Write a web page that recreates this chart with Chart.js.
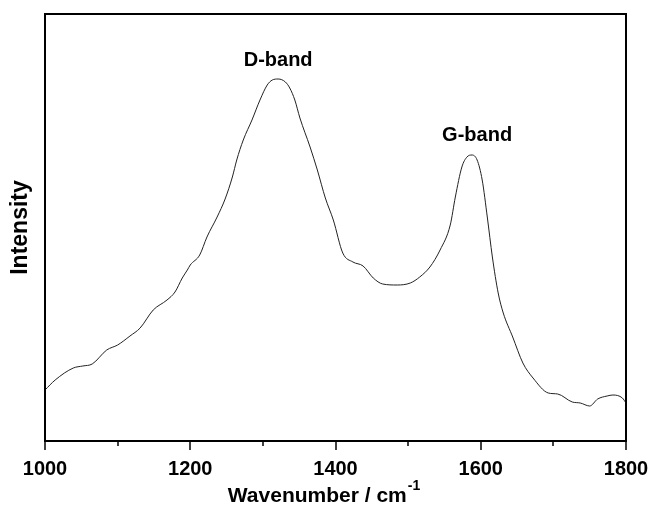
<!DOCTYPE html>
<html>
<head>
<meta charset="utf-8">
<script src="https://cdn.jsdelivr.net/npm/chart.js@4.4.1/dist/chart.umd.min.js"></script>
<style>
  html, body { margin: 0; padding: 0; background: #fff; }
  #wrap { width: 651px; height: 507px; }
</style>
</head>
<body>
<div id="wrap"><canvas id="c" width="651" height="507"></canvas></div>
<script>
// Raman spectrum (intensity in arbitrary units)
const wavenumbers = [1000,1014,1039,1052,1065,1085,1100,1117,1131,1149,1168,1179,1189,1196,1200,1213,1223,1237,1248,1258,1264,1273,1285,1296,1306,1313,1321,1331,1337,1344,1351,1365,1375,1386,1397,1410,1424,1438,1452,1465,1485,1503,1516,1530,1544,1558,1565,1574,1581,1588,1595,1602,1609,1616,1624,1631,1644,1658,1672,1693,1706,1726,1737,1750,1761,1774,1782,1795,1800];
const intensity = [51,61,73,75,77,91,96,105,113,131,141,149,163,171,176,186,204,224,242,264,281,301,321,341,356,361,362,359,353,341,323,294,271,243,221,188,179,175,163,157,156,158,164,174,191,216,244,274,284,286,281,261,224,184,148,128,104,78,63,48,47,39,38,35,42,45,46,43,38];
const xTicks = [1000,1100,1200,1300,1400,1500,1600,1700,1800];
const xLabelTicks = [1000,1200,1400,1600,1800];
const bandLabels = ["D-band","G-band"];
const bandLabelX = [1321,1595];
const bandLabelY = [381,306];
const xTitle = "Wavenumber / cm";
const xTitleSup = "-1";
const yTitle = "Intensity";

const FONT = "'Liberation Sans', Arial, sans-serif";

const framePlugin = {
  id: 'frame',
  afterDraw(chart) {
    const {ctx, chartArea: a, scales} = chart;
    const xs = scales.x, ys = scales.y;
    ctx.save();
    ctx.strokeStyle = '#000';
    ctx.lineWidth = 2;
    ctx.strokeRect(a.left, a.top, a.right - a.left, a.bottom - a.top);
    ctx.lineWidth = 1.5;
    xTicks.forEach((v) => {
      const px = Math.round(xs.getPixelForValue(v));
      const len = (v % 200 === 0) ? 9 : 5;
      ctx.beginPath();
      ctx.moveTo(px, a.bottom);
      ctx.lineTo(px, a.bottom + len);
      ctx.stroke();
    });
    ctx.fillStyle = '#000';
    ctx.font = "bold 20px " + FONT;
    ctx.textAlign = 'center';
    ctx.textBaseline = 'middle';
    bandLabels.forEach((t, i) => {
      ctx.fillText(t, xs.getPixelForValue(bandLabelX[i]), ys.getPixelForValue(bandLabelY[i]));
    });
    const mainFont = "bold 21px " + FONT;
    const supFont = "bold 14px " + FONT;
    ctx.font = mainFont;
    const w1 = ctx.measureText(xTitle).width;
    ctx.font = supFont;
    const w2 = ctx.measureText(xTitleSup).width;
    const cx = (a.left + a.right) / 2;
    const x0 = cx - (w1 + w2) / 2 - 12;
    ctx.textAlign = 'left';
    ctx.textBaseline = 'alphabetic';
    ctx.font = mainFont;
    ctx.fillText(xTitle, x0, 502);
    ctx.font = supFont;
    ctx.fillText(xTitleSup, x0 + w1 + 1, 490);
    ctx.restore();
  }
};

new Chart(document.getElementById('c'), {
  type: 'line',
  data: {
    datasets: [{
      data: wavenumbers.map((w, i) => ({x: w, y: intensity[i]})),
      borderColor: '#222',
      borderWidth: 1,
      pointRadius: 0,
      fill: false,
      cubicInterpolationMode: 'monotone'
    }]
  },
  options: {
    responsive: false,
    animation: false,
    layout: { padding: { left: 0, right: 25, top: 14, bottom: 0 } },
    plugins: { legend: { display: false }, tooltip: { enabled: false } },
    scales: {
      x: {
        type: 'linear',
        min: 1000, max: 1800,
        grid: { display: false, drawTicks: false },
        border: { display: false },
        afterBuildTicks(scale) { scale.ticks = xLabelTicks.map(v => ({value: v})); },
        ticks: {
          color: '#000',
          font: { family: FONT, size: 20, weight: 'bold' },
          padding: 16,
          maxRotation: 0,
          autoSkip: false,
          callback: (v) => String(v)
        },
        afterFit(scale) {
          scale.height = 66;
          scale.paddingLeft = 0; scale.paddingRight = 0;
        }
      },
      y: {
        min: 0, max: 427,
        grid: { display: false, drawTicks: false },
        border: { display: false },
        ticks: { display: false },
        title: {
          display: true,
          text: yTitle,
          color: '#000',
          font: { family: FONT, size: 23, weight: 'bold' },
          padding: { top: 7, bottom: 0 }
        },
        afterFit(scale) { scale.width = 45; }
      }
    }
  },
  plugins: [framePlugin]
});
</script>
</body>
</html>
